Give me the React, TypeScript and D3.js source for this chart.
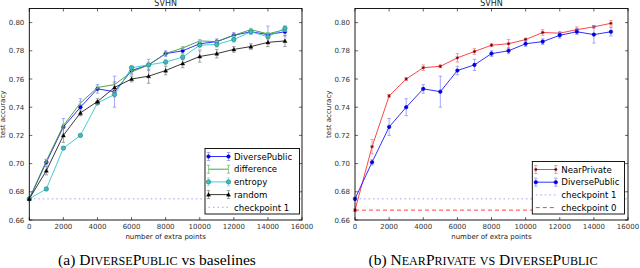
import React from "react";
import * as d3 from "d3";

const xPoints = [0, 1000, 2000, 3000, 4000, 5000, 6000, 7000, 8000, 9000, 10000, 11000, 12000, 13000, 14000, 15000];
const diversePublic = [0.675, 0.701, 0.726, 0.740, 0.753, 0.751, 0.766, 0.770, 0.778, 0.780, 0.785, 0.7865, 0.791, 0.7935, 0.7915, 0.7935];
const diversePublicErr = [0.001, 0.002, 0.006, 0.006, 0.003, 0.011, 0.003, 0.004, 0.002, 0.002, 0.002, 0.002, 0.002, 0.002, 0.006, 0.003];
const difference = [0.675, 0.702, 0.727, 0.743, 0.754, 0.756, 0.765, 0.770, 0.778, 0.782, 0.787, 0.7865, 0.791, 0.795, 0.792, 0.795];
const differenceErr = [0.001, 0.001, 0.001, 0.001, 0.001, 0.001, 0.001, 0.001, 0.001, 0.001, 0.001, 0.001, 0.001, 0.001, 0.001, 0.001];
const entropy = [0.675, 0.682, 0.711, 0.720, 0.743, 0.749, 0.768, 0.770, 0.772, 0.7755, 0.784, 0.7845, 0.788, 0.7935, 0.790, 0.796];
const entropyErr = [0.001, 0.001, 0.001, 0.001, 0.001, 0.002, 0.001, 0.002, 0.002, 0.002, 0.003, 0.002, 0.002, 0.002, 0.002, 0.002];
const random = [0.675, 0.695, 0.720, 0.736, 0.744, 0.754, 0.760, 0.762, 0.766, 0.771, 0.776, 0.778, 0.781, 0.783, 0.786, 0.787];
const randomErr = [0.001, 0.003, 0.005, 0.002, 0.002, 0.004, 0.002, 0.005, 0.003, 0.003, 0.004, 0.003, 0.002, 0.002, 0.003, 0.004];
const nearPrivate = [0.667, 0.712, 0.748, 0.760, 0.768, 0.769, 0.775, 0.7795, 0.784, 0.785, 0.788, 0.793, 0.7925, 0.795, 0.797, 0.7995];
const nearPrivateErr = [0.001, 0.005, 0.001, 0.001, 0.002, 0.001, 0.003, 0.002, 0.001, 0.003, 0.001, 0.002, 0.001, 0.002, 0.001, 0.002];
const checkpoint1 = 0.675;
const checkpoint0 = 0.667;
const xTicks = [0, 2000, 4000, 6000, 8000, 10000, 12000, 14000, 16000];
const yTicks = [0.66, 0.68, 0.70, 0.72, 0.74, 0.76, 0.78, 0.80];

type Marker = "circle" | "dot" | "tri" | "star" | "none";
interface Series {
  name: string;
  values: number[];
  err: number[];
  color: string;
  errColor: string;
  marker: Marker;
  mFill: string;
  mStroke: string;
}
interface Ref {
  name: string;
  value: number;
  color: string;
  dash: string;
}

const TOP = 8.5;
const BOTTOM = 220;
const FONT = "DejaVu Sans, sans-serif";
const SERIF = "Liberation Serif, Times New Roman, serif";

function drawMarker(m: Marker, x: number, y: number, fill: string, stroke: string, key: string) {
  if (m === "circle") return <circle key={key} cx={x} cy={y} r={2.2} fill={fill} stroke={stroke} strokeWidth={0.6} />;
  if (m === "dot") return <circle key={key} cx={x} cy={y} r={1.8} fill={fill} stroke={stroke} strokeWidth={0.5} />;
  if (m === "tri") {
    const s = 2;
    return <path key={key} d={`M${x},${y - s}L${x + s},${y + s * 0.8}L${x - s},${y + s * 0.8}Z`} fill={fill} stroke={stroke} strokeWidth={0.4} />;
  }
  if (m === "star") {
    const s = 1.6;
    return (
      <path key={key} d={`M${x - s},${y}L${x + s},${y}M${x},${y - s}L${x},${y + s}M${x - 1.2},${y - 1.2}L${x + 1.2},${y + 1.2}M${x - 1.2},${y + 1.2}L${x + 1.2},${y - 1.2}`} stroke={stroke} strokeWidth={0.8} fill="none" />
    );
  }
  return null;
}

// manual small caps: capitals at full size, lowercase rendered as smaller capitals
function SmallCaps(props: { text: string; size: number }) {
  const parts: { t: string; small: boolean }[] = [];
  for (const ch of props.text) {
    const small = ch !== ch.toUpperCase();
    const last = parts[parts.length - 1];
    if (last && last.small === small) last.t += ch;
    else parts.push({ t: ch, small });
  }
  return (
    <>
      {parts.map((p, i) => (
        <tspan key={i} fontSize={p.small ? props.size * 0.78 : props.size}>
          {p.small ? p.t.toUpperCase() : p.t}
        </tspan>
      ))}
    </>
  );
}

function Panel(props: {
  x0: number;
  x1: number;
  series: Series[];
  refs: Ref[];
  legend: { left: number; right: number; top: number; bottom: number };
  caption: React.ReactNode;
  captionX: number;
}) {
  const { x0, x1, series, refs, legend } = props;
  const xs = d3.scaleLinear().domain([0, 16000]).range([x0, x1]);
  const ys = d3.scaleLinear().domain([0.66, 0.81]).range([BOTTOM, TOP]);
  const line = d3
    .line<number>()
    .x((_, i) => xs(xPoints[i]))
    .y((d) => ys(d));
  const cx = (x0 + x1) / 2;
  const tl = 3;
  const legendItems = [...series.map((s) => ({ kind: "s" as const, s })), ...refs.map((r) => ({ kind: "r" as const, r }))];
  const rowH = 12.7;
  const lx1 = legend.left + 3.5;
  const lx2 = legend.left + 23.5;
  return (
    <g>
      <text x={cx} y={6} textAnchor="middle" fontFamily={FONT} fontSize={8} fill="#222">SVHN</text>
      {refs.map((r) => (
        <line key={r.name} x1={xs(0)} x2={x1} y1={ys(r.value)} y2={ys(r.value)} stroke={r.color} strokeWidth={1} strokeDasharray={r.dash} />
      ))}
      {series.map((s) => (
        <g key={s.name}>
          <path d={line(s.values) || ""} fill="none" stroke={s.color} strokeWidth={0.9} />
          {s.values.map((v, i) => {
            const x = xs(xPoints[i]);
            const ya = ys(v - s.err[i]);
            const yb = ys(v + s.err[i]);
            return (
              <g key={i} stroke={s.errColor} strokeWidth={0.8}>
                <line x1={x} x2={x} y1={ya} y2={yb} />
                <line x1={x - 1.7} x2={x + 1.7} y1={ya} y2={ya} />
                <line x1={x - 1.7} x2={x + 1.7} y1={yb} y2={yb} />
              </g>
            );
          })}
          {s.values.map((v, i) => drawMarker(s.marker, xs(xPoints[i]), ys(v), s.mFill, s.mStroke, "m" + i))}
        </g>
      ))}
      <rect x={x0} y={TOP} width={x1 - x0} height={BOTTOM - TOP} fill="none" stroke="#000" strokeWidth={0.9} />
      {xTicks.map((t) => (
        <g key={"x" + t}>
          <line x1={xs(t)} x2={xs(t)} y1={BOTTOM} y2={BOTTOM - tl} stroke="#000" strokeWidth={0.6} />
          <line x1={xs(t)} x2={xs(t)} y1={TOP} y2={TOP + tl} stroke="#000" strokeWidth={0.6} />
          <text x={xs(t)} y={228.5} textAnchor="middle" fontFamily={FONT} fontSize={7} fill="#333">{t}</text>
        </g>
      ))}
      {yTicks.map((t) => (
        <g key={"y" + t}>
          <line x1={x0} x2={x0 + tl} y1={ys(t)} y2={ys(t)} stroke="#000" strokeWidth={0.6} />
          <line x1={x1} x2={x1 - tl} y1={ys(t)} y2={ys(t)} stroke="#000" strokeWidth={0.6} />
          <text x={x0 - 5} y={ys(t) + 2.5} textAnchor="end" fontFamily={FONT} fontSize={7} fill="#333">{t.toFixed(2)}</text>
        </g>
      ))}
      <text x={cx} y={238.5} textAnchor="middle" fontFamily={FONT} fontSize={7} fill="#222">number of extra points</text>
      <text transform={`translate(${x0 - 24},${(TOP + BOTTOM) / 2}) rotate(-90)`} textAnchor="middle" fontFamily={FONT} fontSize={7} fill="#222">test accuracy</text>
      <rect x={legend.left} y={legend.top} width={legend.right - legend.left} height={legend.bottom - legend.top} fill="#fff" stroke="#000" strokeWidth={0.9} />
      {legendItems.map((it, k) => {
        const y = legend.top + 8 + k * rowH;
        if (it.kind === "s") {
          const s = it.s;
          return (
            <g key={"l" + k}>
              <line x1={lx1} x2={lx2} y1={y} y2={y} stroke={s.color} strokeWidth={0.9} />
              {[lx1, lx2].map((x, j) => (
                <g key={j} stroke={s.errColor} strokeWidth={0.8}>
                  <line x1={x} x2={x} y1={y - 4} y2={y + 4} />
                  <line x1={x - 1.7} x2={x + 1.7} y1={y - 4} y2={y - 4} />
                  <line x1={x - 1.7} x2={x + 1.7} y1={y + 4} y2={y + 4} />
                </g>
              ))}
              {drawMarker(s.marker, lx1, y, s.mFill, s.mStroke, "a")}
              {drawMarker(s.marker, lx2, y, s.mFill, s.mStroke, "b")}
              <text x={lx2 + 5.5} y={y + 3.2} fontFamily={FONT} fontSize={8.6} fill="#000">{s.name}</text>
            </g>
          );
        }
        const r = it.r;
        return (
          <g key={"l" + k}>
            <line x1={lx1} x2={lx2} y1={y} y2={y} stroke={r.color} strokeWidth={1} strokeDasharray={r.dash} />
            <text x={lx2 + 5.5} y={y + 3.2} fontFamily={FONT} fontSize={8.6} fill="#000">{r.name}</text>
          </g>
        );
      })}
      <text x={props.captionX} y={265} textAnchor="middle" fontFamily={SERIF} fontSize={15.5} fill="#000">
        {props.caption}
      </text>
    </g>
  );
}

export default function App() {
  const blue: Series = { name: "DiversePublic", values: diversePublic, err: diversePublicErr, color: "#1a1aff", errColor: "#9090ff", marker: "dot", mFill: "#0000ee", mStroke: "#0000aa" };
  const green: Series = { name: "difference", values: difference, err: differenceErr, color: "#3a9a3a", errColor: "#7cc07c", marker: "none", mFill: "none", mStroke: "none" };
  const cyan: Series = { name: "entropy", values: entropy, err: entropyErr, color: "#30c8c8", errColor: "#90dede", marker: "circle", mFill: "#3cbcbc", mStroke: "#207c7c" };
  const black: Series = { name: "random", values: random, err: randomErr, color: "#222", errColor: "#888", marker: "tri", mFill: "#000", mStroke: "#000" };
  const red: Series = { name: "NearPrivate", values: nearPrivate, err: nearPrivateErr, color: "#ff3030", errColor: "#ff8080", marker: "star", mFill: "#700", mStroke: "#700" };
  const ref1: Ref = { name: "checkpoint 1", value: checkpoint1, color: "#a0a0ff", dash: "1.5,3" };
  const ref0: Ref = { name: "checkpoint 0", value: checkpoint0, color: "#ff4040", dash: "4,3" };
  const cs = 15.5;
  return (
    <svg width={640} height={268} style={{ position: "absolute", left: 0, top: 0, background: "#fff" }}>
      <rect width={640} height={268} fill="#fff" />
      <Panel
        x0={29.3}
        x1={302}
        series={[blue, green, cyan, black]}
        refs={[ref1]}
        legend={{ left: 205, right: 299.5, top: 148.5, bottom: 214 }}
        captionX={157}
        caption={
          <>
            <tspan>(a) </tspan>
            <SmallCaps text="DiversePublic" size={cs} />
            <tspan> vs baselines</tspan>
          </>
        }
      />
      <Panel
        x0={355}
        x1={628}
        series={[red, blue]}
        refs={[ref1, ref0]}
        legend={{ left: 532.3, right: 624.5, top: 161.5, bottom: 214 }}
        captionX={483}
        caption={
          <>
            <tspan>(b) </tspan>
            <SmallCaps text="NearPrivate vs DiversePublic" size={cs} />
          </>
        }
      />
    </svg>
  );
}
